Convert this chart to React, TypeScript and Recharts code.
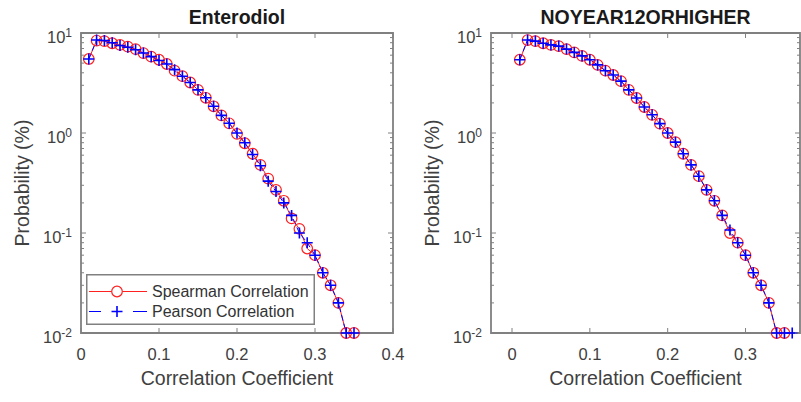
import { LineChart, Line, XAxis, YAxis, ReferenceArea, Legend, Label } from "recharts";

// correlation coefficient bins (x)
const coefficients = [
  0.01, 0.02, 0.03, 0.04, 0.05, 0.06, 0.07, 0.08, 0.09, 0.1, 0.11, 0.12, 0.13, 0.14, 0.15, 0.16, 0.17, 0.18,
  0.19, 0.2, 0.21, 0.22, 0.23, 0.24, 0.25, 0.26, 0.27, 0.28, 0.29, 0.3, 0.31, 0.32, 0.33, 0.34, 0.35,
];
const extraCoefficients = [0.36];

// Enterodiol, probability (%)
const enterodiolSpearman = [
  5.5, 8.4, 8.3, 7.9, 7.6, 7.3, 6.9, 6.3, 5.8, 5.4, 4.9, 4.2, 3.7, 3.2, 2.7, 2.25, 1.85, 1.5, 1.25, 0.98, 0.79,
  0.62, 0.48, 0.35, 0.27, 0.21, 0.14, 0.11, 0.07, 0.06, 0.04, 0.03, 0.02, 0.01, 0.01,
];
const enterodiolPearson = [
  5.5, 8.5, 8.4, 8.0, 7.5, 7.2, 6.8, 6.3, 5.8, 5.3, 4.9, 4.3, 3.7, 3.2, 2.7, 2.25, 1.85, 1.5, 1.25, 1.0, 0.8,
  0.61, 0.47, 0.33, 0.26, 0.2, 0.15, 0.1, 0.08, 0.06, 0.04, 0.03, 0.02, 0.01, 0.01,
];

// NOYEAR12ORHIGHER, probability (%)
const noYearSpearman = [
  5.4, 8.5, 8.3, 7.9, 7.6, 7.4, 6.9, 6.4, 5.9, 5.4, 4.8, 4.2, 3.8, 3.3, 2.7, 2.24, 1.82, 1.52, 1.24, 1.0, 0.81,
  0.62, 0.48, 0.37, 0.27, 0.21, 0.15, 0.1, 0.08, 0.06, 0.04, 0.03, 0.02, 0.01, 0.01,
];
const noYearPearson = [
  5.4, 8.5, 8.3, 7.9, 7.6, 7.4, 6.9, 6.4, 5.9, 5.4, 4.8, 4.2, 3.8, 3.3, 2.7, 2.24, 1.82, 1.52, 1.24, 1.0, 0.81,
  0.62, 0.48, 0.37, 0.27, 0.21, 0.15, 0.107, 0.08, 0.06, 0.04, 0.03, 0.02, 0.01, 0.01, 0.01,
];

const leftXTicks = [0, 0.1, 0.2, 0.3, 0.4];
const rightXTicks = [0, 0.1, 0.2, 0.3];
const yMajor = [0.01, 0.1, 1, 10];
const yTicks = [
  0.01, 0.02, 0.03, 0.04, 0.05, 0.06, 0.07, 0.08, 0.09, 0.1, 0.2, 0.3, 0.4, 0.5, 0.6, 0.7, 0.8, 0.9, 1, 2, 3, 4,
  5, 6, 7, 8, 9, 10,
];

const FONT = "'Liberation Sans', Arial, Helvetica, sans-serif";
const AXIS = "#808080";
const TEXT = "#404040";
const PLOT_H = 300;

const leftData = coefficients.map((r, i) => ({
  r,
  spearman: enterodiolSpearman[i],
  pearson: enterodiolPearson[i],
}));
const rightData = [...coefficients, ...extraCoefficients].map((r, i) => ({
  r,
  spearman: noYearSpearman[i],
  pearson: noYearPearson[i],
}));

function CircleDot(props: any) {
  const { cx, cy, index } = props;
  if (cx == null || cy == null) return <g key={`c-${index}`} />;
  return <circle key={`c-${index}`} cx={cx} cy={cy} r={5.3} fill="none" stroke="#ff2020" strokeWidth={1.2} />;
}

function PlusDot(props: any) {
  const { cx, cy, index } = props;
  if (cx == null || cy == null) return <g key={`p-${index}`} />;
  return (
    <path
      key={`p-${index}`}
      d={`M${cx - 5.5},${cy}H${cx + 5.5}M${cx},${cy - 5.5}V${cy + 5.5}`}
      stroke="#0000ff"
      strokeWidth={1.6}
      fill="none"
    />
  );
}

const makeYTick = (plotW: number) => (props: any) => {
  const { x, y, payload } = props;
  const v = payload.value;
  const major = yMajor.includes(v);
  const len = major ? 5 : 3;
  const exp = Math.round(Math.log10(v));
  return (
    <g>
      <line x1={x} x2={x + len} y1={y} y2={y} stroke={AXIS} strokeWidth={1} />
      <line x1={x + plotW} x2={x + plotW - len} y1={y} y2={y} stroke={AXIS} strokeWidth={1} />
      {major && (
        <text x={x - 9} y={y + 10} textAnchor="end" fill={TEXT} fontSize={16.5} fontFamily={FONT}>
          10
          <tspan dy={-6} fontSize={12}>
            {exp}
          </tspan>
        </text>
      )}
    </g>
  );
};

function XTick(props: any) {
  const { x, y, payload } = props;
  return (
    <g>
      <line x1={x} x2={x} y1={y} y2={y - 5} stroke={AXIS} strokeWidth={1} />
      <line x1={x} x2={x} y1={y - PLOT_H} y2={y - PLOT_H + 5} stroke={AXIS} strokeWidth={1} />
      <text x={x} y={y + 27} textAnchor="middle" fill={TEXT} fontSize={16.5} fontFamily={FONT}>
        {String(payload.value)}
      </text>
    </g>
  );
}

function XTitle(props: any) {
  const vb = props.viewBox;
  return (
    <text
      x={vb.x + vb.width / 2}
      y={vb.y + 52}
      textAnchor="middle"
      fill={TEXT}
      fontSize={19.5}
      fontFamily={FONT}
    >
      Correlation Coefficient
    </text>
  );
}

function YTitle(props: any) {
  const vb = props.viewBox;
  const cx = vb.x + vb.width - 59;
  const cy = vb.y + vb.height / 2;
  return (
    <text
      x={cx}
      y={cy}
      transform={`rotate(-90 ${cx} ${cy})`}
      textAnchor="middle"
      dominantBaseline="central"
      fill={TEXT}
      fontSize={19.5}
      fontFamily={FONT}
    >
      Probability (%)
    </text>
  );
}

function LegendBox() {
  return (
    <svg width={229} height={51} style={{ display: "block" }}>
      <rect x={0.75} y={0.75} width={227.5} height={49.5} fill="#fff" stroke={AXIS} strokeWidth={1.5} />
      <line x1={3} x2={61} y1={17.5} y2={17.5} stroke="#ff2020" strokeWidth={1} />
      <circle cx={31} cy={17.5} r={5.3} fill="#fff" stroke="#ff2020" strokeWidth={1.2} />
      <text x={66} y={23} fill="#333" fontSize={16} fontFamily={FONT}>
        Spearman Correlation
      </text>
      <line x1={3} x2={15} y1={37.5} y2={37.5} stroke="#0000ff" strokeWidth={1} />
      <line x1={47} x2={61} y1={37.5} y2={37.5} stroke="#0000ff" strokeWidth={1} />
      <path d="M25.5,37.5H36.5M31,32V43" stroke="#0000ff" strokeWidth={1.6} />
      <text x={66} y={43} fill="#333" fontSize={16} fontFamily={FONT}>
        Pearson Correlation
      </text>
    </svg>
  );
}

type PanelProps = {
  data: { r: number; spearman?: number; pearson?: number }[];
  width: number;
  yAxisWidth: number;
  marginRight: number;
  xDomain: [number, number];
  xTicks: number[];
  showLegend: boolean;
};

function Panel({ data, width, yAxisWidth, marginRight, xDomain, xTicks, showLegend }: PanelProps) {
  const plotW = width - yAxisWidth - marginRight;
  return (
    <LineChart width={width} height={402} data={data} margin={{ top: 33, right: marginRight, bottom: 0, left: 0 }}>
      <XAxis
        dataKey="r"
        type="number"
        domain={xDomain}
        ticks={xTicks}
        interval={0}
        height={69}
        axisLine={false}
        tickLine={false}
        tickSize={0}
        tickMargin={0}
        tick={XTick}
      >
        <Label content={XTitle} />
      </XAxis>
      <YAxis
        type="number"
        scale="log"
        domain={[0.01, 10]}
        ticks={yTicks}
        interval={0}
        width={yAxisWidth}
        axisLine={false}
        tickLine={false}
        tickSize={0}
        tickMargin={0}
        tick={makeYTick(plotW)}
      >
        <Label content={YTitle} />
      </YAxis>
      <ReferenceArea y1={0.01} y2={10} fill="none" stroke={AXIS} strokeWidth={1.8} fillOpacity={0} />
      <Line
        dataKey="spearman"
        name="Spearman Correlation"
        stroke="#ff2020"
        strokeWidth={1}
        dot={CircleDot}
        activeDot={false}
        isAnimationActive={false}
      />
      <Line
        dataKey="pearson"
        name="Pearson Correlation"
        stroke="#0000ff"
        strokeWidth={1}
        strokeDasharray="6 3"
        dot={PlusDot}
        activeDot={false}
        isAnimationActive={false}
      />
      {showLegend && (
        <Legend
          layout="horizontal"
          verticalAlign="middle"
          align="center"
          content={LegendBox}
          wrapperStyle={{ left: 86, top: 274, width: 229, height: 51 }}
        />
      )}
    </LineChart>
  );
}

const titleStyle = {
  position: "absolute" as const,
  top: 5,
  textAlign: "center" as const,
  fontFamily: FONT,
  fontWeight: 700,
  fontSize: 19.5,
  lineHeight: "24px",
  color: "#1a1a1a",
};

export default function App() {
  return (
    <div style={{ position: "absolute", left: 0, top: 0, width: 801, height: 402, background: "#fff", overflow: "hidden" }}>
      <div style={{ position: "absolute", left: 0, top: 0 }}>
        <Panel
          data={leftData}
          width={412}
          yAxisWidth={81}
          marginRight={19}
          xDomain={[0, 0.4]}
          xTicks={leftXTicks}
          showLegend
        />
      </div>
      <div style={{ position: "absolute", left: 412, top: 0 }}>
        <Panel
          data={rightData}
          width={389}
          yAxisWidth={79}
          marginRight={1}
          xDomain={[-0.027, 0.37]}
          xTicks={rightXTicks}
          showLegend={false}
        />
      </div>
      <div style={{ ...titleStyle, left: 81, width: 312 }}>Enterodiol</div>
      <div style={{ ...titleStyle, left: 491, width: 309 }}>NOYEAR12ORHIGHER</div>
    </div>
  );
}
